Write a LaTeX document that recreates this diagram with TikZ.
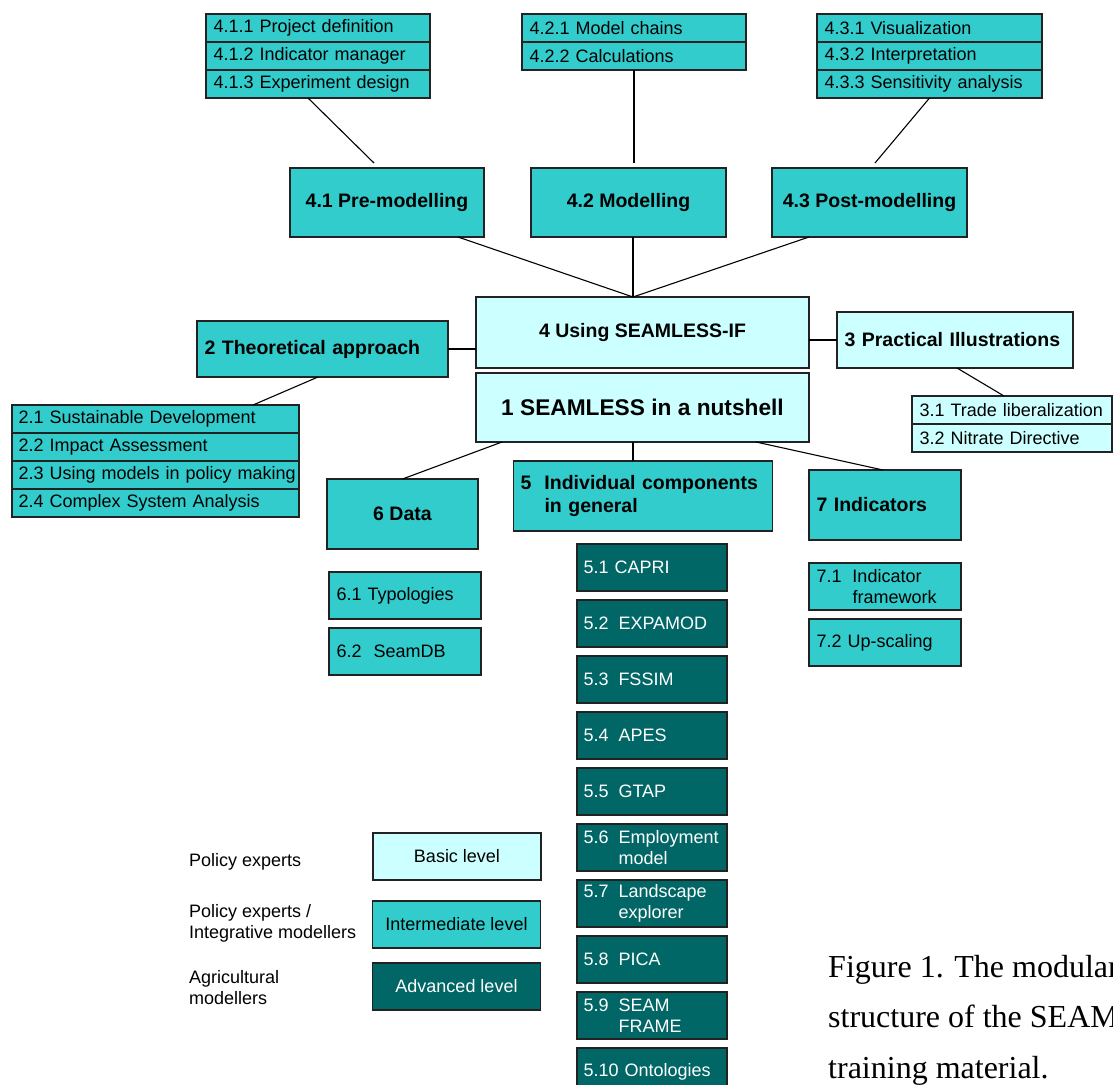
\documentclass[tikz,border=0pt]{standalone}
\usepackage{fontspec}
\setmainfont{Liberation Sans}
\newfontfamily\capfont{Liberation Serif}
\usetikzlibrary{positioning}

\definecolor{basicbg}{HTML}{CCFFFF}
\definecolor{interbg}{HTML}{33CCCC}
\definecolor{advbg}{HTML}{006666}
\definecolor{boxline}{HTML}{222222}

\newcommand{\rowsize}{\fontsize{18}{21}\selectfont}
\newcommand{\headsize}{\fontsize{19.5}{23}\selectfont\bfseries}
\newcommand{\numcol}[2][35pt]{\makebox[#1][l]{#2}}

\tikzset{
  boxbase/.style={draw=boxline, line width=1.4pt, inner xsep=7.5pt, inner ysep=0pt, outer sep=0pt},
  rowbox/.style={boxbase, fill=interbg, font=\rowsize, minimum height=28pt, align=left},
  lightrow/.style={rowbox, fill=basicbg},
  headbox/.style={boxbase, fill=interbg, font=\headsize, align=center},
  lighthead/.style={headbox, fill=basicbg},
  subbox/.style={boxbase, fill=interbg, font=\rowsize, minimum height=47pt, align=left, text width=137pt},
  advbox/.style={subbox, fill=advbg, text=white, inner xsep=6.5pt},
  legbox/.style={boxbase, font=\rowsize, minimum width=168pt, minimum height=47pt, align=center},
  legtxt/.style={font=\rowsize, align=left, inner sep=0pt},
  conn/.style={line width=1.1pt, black},
}

\begin{document}
\begin{tikzpicture}[x=1pt, y=-1pt, node distance=0pt]

  \useasboundingbox (0,0) rectangle (1113,1084);
  \clip (0,0) rectangle (1113,1084);

  %% sub-topics of 4
  \node[rowbox, text width=209pt, anchor=north west] (l411) at (206,14) {4.1.1 Project definition};
  \node[rowbox, text width=209pt, below=of l411] (l412) {4.1.2 Indicator manager};
  \node[rowbox, text width=209pt, below=of l412] (l413) {4.1.3 Experiment design};

  \node[rowbox, text width=209pt, anchor=north west] (l421) at (522,14) {4.2.1 Model chains};
  \node[rowbox, text width=209pt, below=of l421] (l422) {4.2.2 Calculations};

  \node[rowbox, text width=210pt, anchor=north west] (l431) at (817,14) {4.3.1 Visualization};
  \node[rowbox, text width=210pt, below=of l431] (l432) {4.3.2 Interpretation};
  \node[rowbox, text width=210pt, below=of l432] (l433) {4.3.3 Sensitivity analysis};

  %% modelling steps
  \node[headbox, minimum width=194pt, minimum height=69pt] (pre) at (387,202.5) {4.1 Pre-modelling};
  \node[headbox, minimum width=195pt, minimum height=69pt] (mod) at (628.5,202.5) {4.2 Modelling};
  \node[headbox, minimum width=195pt, minimum height=69pt] (post) at (869.5,202.5) {4.3 Post-modelling};

  %% central blocks
  \node[lighthead, minimum width=333pt, minimum height=71pt] (use4) at (642.5,332.5) {4 Using SEAMLESS-IF};
  \node[lighthead, minimum width=333pt, minimum height=69pt,
        font={\fontsize{22.7}{26}\selectfont\bfseries}] (nut1) at (642.5,407.5) {1 SEAMLESS in a nutshell};

  %% theory
  \node[headbox, text width=236pt, align=left, minimum height=56pt] (theo2) at (322.5,349) {2 Theoretical approach};
  \node[rowbox, text width=274pt, inner xsep=6.5pt, anchor=north west] (l21) at (12,405) {2.1 Sustainable Development};
  \node[rowbox, text width=274pt, inner xsep=6.5pt, below=of l21] (l22) {2.2 Impact Assessment};
  \node[rowbox, text width=274pt, inner xsep=6.5pt, below=of l22] (l23) {\mbox{2.3 Using models in policy making}};
  \node[rowbox, text width=274pt, inner xsep=6.5pt, below=of l23] (l24) {2.4 Complex System Analysis};

  %% illustrations
  \node[lighthead, text width=221pt, align=left, minimum height=56pt] (prac3) at (955,340) {3 Practical Illustrations};
  \node[lightrow, text width=185pt, anchor=north west] (l31) at (912,396) {3.1 Trade liberalization};
  \node[lightrow, text width=185pt, below=of l31] (l32) {3.2 Nitrate Directive};

  %% data, components, indicators
  \node[headbox, minimum width=151pt, minimum height=70pt] (data6) at (402.5,514) {6 Data};
  \node[headbox, text width=245pt, align=left, minimum height=70pt, inner xsep=7pt] (comp5) at (643,496)
    {\numcol[24pt]{5}Individual components\\\numcol[24pt]{}in general};
  \node[headbox, text width=137pt, align=left, minimum height=70pt] (ind7) at (885,505) {7 Indicators};

  \node[subbox, anchor=north west] (d61) at (329,572) {6.1 Typologies};
  \node[subbox, below=9pt of d61] (d62) {6.2\ \ SeamDB};

  \node[subbox, anchor=north west] (i71) at (809,563) {\numcol[36pt]{7.1}Indicator\\\numcol[36pt]{}framework};
  \node[subbox, below=9pt of i71] (i72) {7.2 Up-scaling};

  \node[advbox, anchor=north west] (m51) at (577,544) {5.1 CAPRI};
  \node[advbox, below=9pt of m51] (m52) {\numcol{5.2}EXPAMOD};
  \node[advbox, below=9pt of m52] (m53) {\numcol{5.3}FSSIM};
  \node[advbox, below=9pt of m53] (m54) {\numcol{5.4}APES};
  \node[advbox, below=9pt of m54] (m55) {\numcol{5.5}GTAP};
  \node[advbox, below=9pt of m55] (m56) {\numcol{5.6}Employment\\\numcol{}model};
  \node[advbox, below=9pt of m56] (m57) {\numcol{5.7}Landscape\\\numcol{}explorer};
  \node[advbox, below=9pt of m57] (m58) {\numcol{5.8}PICA};
  \node[advbox, below=9pt of m58] (m59) {\numcol{5.9}SEAM\\\numcol{}FRAME};
  \node[advbox, below=9pt of m59] (m510) {5.10 Ontologies};

  %% legend
  \node[legbox, fill=basicbg] (legbasic) at (457,856.5) {Basic level};
  \node[legbox, fill=interbg] (leginter) at (456.5,924.5) {Intermediate level};
  \node[legbox, fill=advbg, text=white] (legadv) at (456.5,986.5) {Advanced level};
  \node[legtxt, anchor=west] (txtbasic) at (189,862) {Policy experts};
  \node[legtxt, anchor=west] (txtinter) at (189,923) {Policy experts /\\Integrative modellers};
  \node[legtxt, anchor=west] (txtadv) at (189,987.5) {Agricultural\\modellers};

  %% caption
  \node[anchor=north west, inner sep=0pt, align=left,
        font={\capfont\fontsize{32}{50.5}\selectfont}] (cap) at (828,955)
    {Figure 1. The modular\\structure of the SEAMLESS\\training material.};

  %% connectors
  \coordinate (apex) at ([xshift=-9.5pt]use4.north);
  \draw[conn] ([xshift=-10pt]l413.south) -- ([xshift=-13pt,yshift=5pt]pre.north);
  \draw[conn] (l422.south) -- ([yshift=5pt]l422.south |- mod.north);
  \draw[conn] (l433.south) -- ([xshift=5.5pt,yshift=5pt]post.north);
  \draw[conn] ([xshift=71pt]pre.south) -- (apex);
  \draw[conn] (mod.south -| apex) -- (apex);
  \draw[conn] ([xshift=-60.5pt]post.south) -- (apex);
  \draw[conn] (theo2.east) -- (theo2.east -| use4.west);
  \draw[conn] (prac3.west) -- (prac3.west -| use4.east);
  \draw[conn] ([xshift=-4.5pt]theo2.south) -- ([xshift=97.5pt]l21.north);
  \draw[conn] ([xshift=2pt]prac3.south) -- ([xshift=-8pt]l31.north);
  \draw[conn] ([xshift=-140.5pt]nut1.south) -- (data6.north);
  \draw[conn] (nut1.south -| apex) -- (comp5.north -| apex);
  \draw[conn] ([xshift=113.5pt]nut1.south) -- ([xshift=-2pt]ind7.north);

\end{tikzpicture}
\end{document}
